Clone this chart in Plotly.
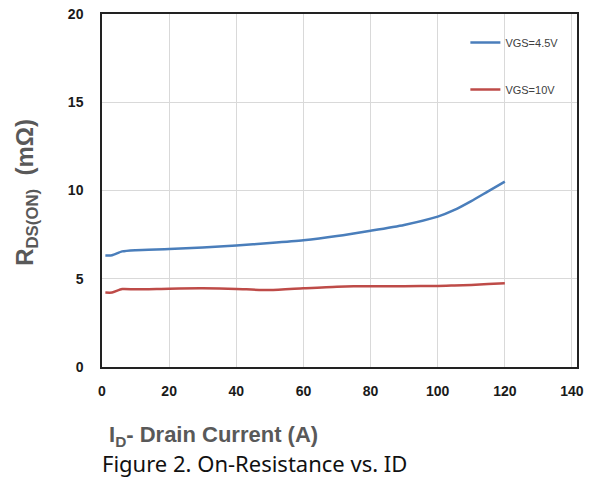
import plotly.graph_objects as go

# Data
id_current = [1, 3, 6, 10, 20, 30, 40, 50, 60, 70, 80, 90, 100, 105, 110, 115, 120]
r_vgs45 = [6.32, 6.33, 6.55, 6.62, 6.68, 6.77, 6.88, 7.02, 7.18, 7.42, 7.72, 8.05, 8.52, 8.9, 9.4, 9.95, 10.5]
r_vgs10 = [4.22, 4.22, 4.42, 4.40, 4.44, 4.46, 4.42, 4.36, 4.46, 4.55, 4.58, 4.58, 4.59, 4.62, 4.65, 4.7, 4.75]

series_names = ["VGS=4.5V", "VGS=10V"]
series_colors = ["#4a7ebb", "#be4b48"]

x_ticks = [0, 20, 40, 60, 80, 100, 120, 140]
y_ticks = [0, 5, 10, 15, 20]

fig = go.Figure()
for i, (name, ys, col) in enumerate(zip(series_names, [r_vgs45, r_vgs10], series_colors)):
    fig.add_trace(go.Scatter(
        x=id_current, y=ys, mode="lines", name=name,
        line=dict(color=col, width=2.5, shape="spline", smoothing=0.6),
        legendgroup=f"g{i}",
    ))

tick_font = dict(family="Liberation Sans", size=14, color="#1a1a1a", weight="bold")

fig.update_layout(
    width=592, height=489,
    margin=dict(l=102, r=15, t=14, b=122, autoexpand=False),
    paper_bgcolor="white", plot_bgcolor="white",
    showlegend=True,
    legend=dict(
        x=0.765, y=0.96, xanchor="left", yanchor="top",
        bgcolor="rgba(0,0,0,0)",
        font=dict(family="Liberation Sans", size=11, color="#404040"),
        tracegroupgap=28, itemwidth=30,
    ),
    xaxis=dict(
        range=[0, 141.5], tickvals=x_ticks, ticktext=[str(v) for v in x_ticks],
        showgrid=True, gridcolor="#d9d9d9", gridwidth=1,
        showline=True, linecolor="#222222", linewidth=1.5, mirror=True,
        ticks="", tickfont=tick_font, zeroline=False, automargin=False,
        ticklabelstandoff=10, ticklabeloverflow="allow",
    ),
    yaxis=dict(
        range=[0, 20], tickvals=y_ticks, ticktext=[str(v) for v in y_ticks],
        showgrid=True, gridcolor="#d9d9d9", gridwidth=1,
        showline=True, linecolor="#222222", linewidth=1.5, mirror=True,
        ticks="", tickfont=tick_font, zeroline=False, automargin=False,
        ticklabelstandoff=14, ticklabeloverflow="allow",
    ),
    annotations=[
        dict(text="R<sub>DS(ON)</sub>  (mΩ)", xref="paper", yref="paper",
             x=-0.158, y=0.496, textangle=-90, showarrow=False,
             xanchor="center", yanchor="middle",
             font=dict(family="Liberation Sans", size=24, color="#595959", weight="bold")),
        dict(text="I<sub>D</sub>- Drain Current (A)", xref="paper", yref="paper",
             x=0.0105, y=-0.195, showarrow=False, xanchor="left", yanchor="middle",
             font=dict(family="Liberation Sans", size=22, color="#595959", weight="bold")),
        dict(text="Figure 2. On-Resistance vs. ID", xref="paper", yref="paper",
             x=-0.004, y=-0.272, showarrow=False, xanchor="left", yanchor="middle",
             font=dict(family="Noto Sans", size=22, color="#111111")),
    ],
)

fig.write_html("out.html", config={"displayModeBar": False},
               post_script="document.body.style.margin='0';")
